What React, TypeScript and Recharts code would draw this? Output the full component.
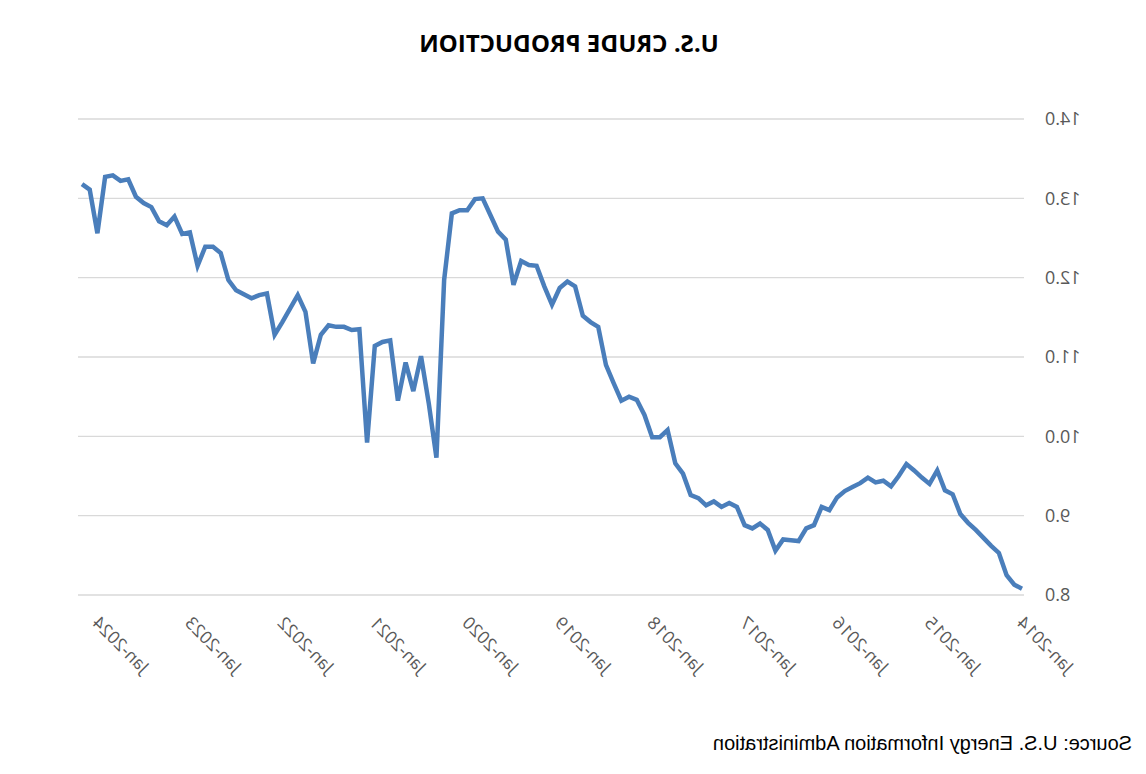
import React from 'react';
import { LineChart, Line, XAxis, YAxis, CartesianGrid } from 'recharts';

// Monthly U.S. crude production (million b/d), Jan-2014 .. Mar-2024
const production: number[] = [
  8.08, 8.13, 8.25, 8.53, 8.62, 8.72, 8.82, 8.91, 9.02, 9.27, 9.32, 9.57,
  9.40, 9.48, 9.57, 9.65, 9.50, 9.37, 9.44, 9.42, 9.48, 9.41, 9.36, 9.31,
  9.23, 9.07, 9.11, 8.88, 8.84, 8.68, 8.69, 8.70, 8.56, 8.82, 8.90, 8.84,
  8.88, 9.11, 9.16, 9.11, 9.18, 9.13, 9.22, 9.26, 9.53, 9.66, 10.08, 9.99,
  9.99, 10.27, 10.46, 10.50, 10.45, 10.67, 10.90, 11.38, 11.44, 11.52, 11.89, 11.95,
  11.87, 11.66, 11.89, 12.15, 12.16, 12.21, 11.91, 12.48, 12.58, 12.79, 13.00, 12.99,
  12.85, 12.85, 12.81, 11.97, 9.73, 10.42, 11.01, 10.57, 10.93, 10.45, 11.21, 11.19,
  11.14, 9.92, 11.35, 11.34, 11.38, 11.38, 11.40, 11.28, 10.92, 11.57, 11.78, 11.61,
  11.44, 11.28, 11.80, 11.78, 11.74, 11.79, 11.84, 11.97, 12.31, 12.39, 12.39, 12.15,
  12.57, 12.55, 12.77, 12.66, 12.71, 12.89, 12.94, 13.02, 13.24, 13.22, 13.29, 13.27,
  12.56, 13.11, 13.18,
];

const tickIndices: number[] = [0, 12, 24, 36, 48, 60, 72, 84, 96, 108, 120];
const tickLabels: string[] = [
  'Jan-2014', 'Jan-2015', 'Jan-2016', 'Jan-2017', 'Jan-2018', 'Jan-2019',
  'Jan-2020', 'Jan-2021', 'Jan-2022', 'Jan-2023', 'Jan-2024',
];
const yTicks: number[] = [8, 9, 10, 11, 12, 13, 14];

const data = production.map((v, i) => ({ i, v }));

const XTick = (props: any) => {
  const { x, y, payload } = props;
  const idx = tickIndices.indexOf(payload.value);
  const label = idx >= 0 ? tickLabels[idx] : '';
  const ax = x + 6;
  const ay = y + 29;
  return (
    <text
      x={ax}
      y={ay}
      transform={`rotate(-45 ${ax} ${ay})`}
      textAnchor="end"
      fill="#595959"
      fontSize={17.5}
      fontFamily="'Open Sans', sans-serif"
    >
      {label}
    </text>
  );
};

export default function App() {
  return (
    <div
      style={{
        position: 'absolute',
        left: 0,
        top: 0,
        width: 1146,
        height: 774,
        transform: 'scaleX(-1)',
        background: '#ffffff',
        overflow: 'hidden',
      }}
    >
      <div
        style={{
          position: 'absolute',
          left: 0,
          top: 28,
          width: 1146,
          paddingLeft: 4,
          textAlign: 'center',
          fontFamily: "'Open Sans', sans-serif",
          fontWeight: 700,
          fontSize: 24,
          lineHeight: '30px',
          color: '#000000',
        }}
      >
        U.S. CRUDE PRODUCTION
      </div>
      <LineChart
        width={1146}
        height={774}
        data={data}
        margin={{ top: 119, right: 78, bottom: 79, left: 22 }}
      >
        <CartesianGrid vertical={false} stroke="#d9d9d9" strokeWidth={1.3} />
        <XAxis
          dataKey="i"
          type="number"
          domain={[-0.26, 122.52]}
          ticks={tickIndices}
          tick={<XTick />}
          tickLine={false}
          axisLine={false}
          height={100}
          interval={0}
          allowDataOverflow
          tickSize={0}
          tickMargin={0}
        />
        <YAxis
          domain={[8, 14]}
          ticks={yTicks}
          tickFormatter={(v: number) => v.toFixed(1)}
          tick={{ fill: '#595959', fontSize: 18, fontFamily: "'Open Sans', sans-serif" }}
          tickLine={false}
          axisLine={false}
          tickSize={0}
          tickMargin={21}
          width={100}
          interval={0}
        />
        <Line
          type="linear"
          dataKey="v"
          stroke="#4a7ebb"
          strokeWidth={4.5}
          dot={false}
          isAnimationActive={false}
        />
      </LineChart>
      <div
        style={{
          position: 'absolute',
          left: 14,
          top: 732,
          fontFamily: "'Liberation Sans', Arial, sans-serif",
          fontSize: 20,
          lineHeight: '22px',
          color: '#000000',
          whiteSpace: 'nowrap',
        }}
      >
        Source: U.S. Energy Information Administration
      </div>
    </div>
  );
}
